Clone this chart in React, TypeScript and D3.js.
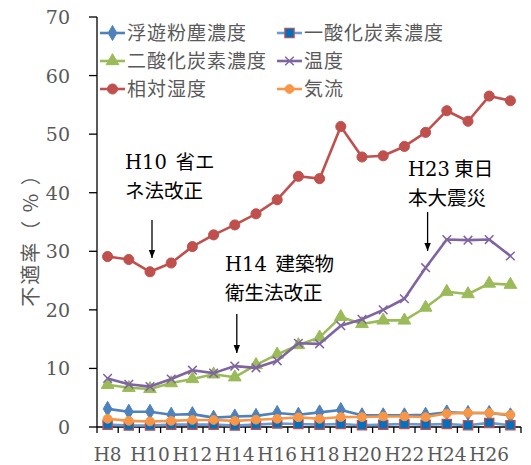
import React from "react";
import * as d3 from "d3";

// Fiscal years (Heisei era)
const years = [
  "H8", "H9", "H10", "H11", "H12", "H13", "H14", "H15", "H16", "H17",
  "H18", "H19", "H20", "H21", "H22", "H23", "H24", "H25", "H26", "H27",
];

// Non-compliance rates (%) per inspection item
const dust = [3.1, 2.6, 2.6, 2.1, 2.2, 1.6, 1.8, 1.9, 2.4, 2.1, 2.5, 2.9, 2.0, 2.0, 2.0, 2.1, 2.5, 2.4, 2.4, 2.0];
const carbonMonoxide = [0.4, 0.25, 0.25, 0.4, 0.4, 0.4, 0.25, 0.4, 0.6, 0.5, 0.4, 0.5, 0.3, 0.4, 0.5, 0.4, 0.5, 0.3, 0.7, 0.3];
const carbonDioxide = [7.2, 6.7, 6.5, 7.5, 8.2, 9.0, 8.5, 10.6, 12.4, 14.0, 15.3, 18.8, 17.6, 18.2, 18.2, 20.4, 23.1, 22.7, 24.5, 24.3];
const temperature = [8.3, 7.3, 6.9, 8.2, 9.7, 9.2, 10.4, 10.1, 11.3, 14.3, 14.2, 17.3, 18.4, 20.0, 21.9, 27.2, 32.0, 31.9, 32.0, 29.2];
const humidity = [29.1, 28.6, 26.5, 28.0, 30.8, 32.8, 34.5, 36.4, 38.8, 42.8, 42.4, 51.3, 46.1, 46.3, 47.9, 50.3, 54.0, 52.2, 56.5, 55.7];
const airflow = [1.4, 1.05, 0.95, 1.05, 1.2, 1.2, 1.05, 1.25, 1.4, 1.65, 1.4, 1.7, 1.7, 1.8, 1.8, 1.7, 2.3, 2.4, 2.4, 2.1];

const yTicks = [0, 10, 20, 30, 40, 50, 60, 70];
const xLabelYears = ["H8", "H10", "H12", "H14", "H16", "H18", "H20", "H22", "H24", "H26"];

type Series = {
  name: string;
  values: number[];
  line: string;
  symbol: d3.SymbolType;
  size: number;
  fill: string;
  stroke: string;
  strokeWidth: number;
};

const series: Series[] = [
  { name: "浮遊粉塵濃度", values: dust, line: "#4F81BD", symbol: d3.symbolDiamond, size: 65, fill: "#4F81BD", stroke: "#4F81BD", strokeWidth: 1 },
  { name: "一酸化炭素濃度", values: carbonMonoxide, line: "#6A9AD6", symbol: d3.symbolSquare, size: 85, fill: "#0070C0", stroke: "#C0504D", strokeWidth: 1.3 },
  { name: "二酸化炭素濃度", values: carbonDioxide, line: "#9BBB59", symbol: d3.symbolTriangle, size: 70, fill: "#9BBB59", stroke: "#9BBB59", strokeWidth: 1 },
  { name: "温度", values: temperature, line: "#8064A2", symbol: d3.symbolTimes, size: 50, fill: "none", stroke: "#8064A2", strokeWidth: 1.5 },
  { name: "相対湿度", values: humidity, line: "#C0504D", symbol: d3.symbolCircle, size: 80, fill: "#C0504D", stroke: "#C0504D", strokeWidth: 1 },
  { name: "気流", values: airflow, line: "#F79646", symbol: d3.symbolCircle, size: 60, fill: "#F79646", stroke: "#F79646", strokeWidth: 1 },
];

// Law changes and events marked on the chart
const events = [
  { year: "H10", lines: [["H10", "  省エ"], ["", "ネ法改正"]], tx: 125, ty: 169, y1: 220, y2: 258 },
  { year: "H14", lines: [["H14", "  建築物"], ["", "衛生法改正"]], tx: 225, ty: 271, y1: 314, y2: 353 },
  { year: "H23", lines: [["H23", " 東日"], ["", "本大震災"]], tx: 408, ty: 176, y1: 212, y2: 251 },
];

const W = 531;
const H = 465;
const left = 97;
const right = 521;
const top = 17;
const bottom = 427;

const serif = "'DejaVu Serif', 'Liberation Serif', serif";
const cjk = "'Noto Sans CJK JP', 'Noto Sans', sans-serif";

export default function App() {
  const x = d3.scaleBand<string>().domain(years).range([left, right]).padding(0);
  const y = d3.scaleLinear().domain([0, 70]).range([bottom, top]);
  const cx = (yr: string) => (x(yr) as number) + x.bandwidth() / 2;

  const lineGen = d3
    .line<number>()
    .x((_, i) => cx(years[i]))
    .y((v) => y(v));

  const legendPos = [
    [100, 33], [277, 33],
    [100, 61], [277, 61],
    [100, 89], [277, 89],
  ];

  return (
    <svg width={W} height={H} style={{ position: "absolute", left: 0, top: 0, background: "#fff" }}>
      <defs>
        <marker id="arrow" viewBox="0 0 10 10" refX="10" refY="5" markerWidth="8" markerHeight="8" orient="auto" markerUnits="userSpaceOnUse">
          <path d="M0,1 L10,5 L0,9 Z" fill="#000" />
        </marker>
      </defs>

      {/* y axis */}
      <line x1={left} x2={left} y1={top} y2={bottom} stroke="#000" strokeWidth={1.3} />
      {yTicks.map((t) => (
        <g key={t}>
          <line x1={left - 8} x2={left} y1={y(t)} y2={y(t)} stroke="#000" strokeWidth={1.3} />
          <text x={70} y={y(t) + 7} textAnchor="end" fontFamily={serif} fontSize={19} fill="#595959">
            {t}
          </text>
        </g>
      ))}
      <text
        transform={`translate(38, 235) rotate(-90)`}
        textAnchor="middle"
        fontFamily={cjk}
        fontSize={20}
        letterSpacing={2}
        fill="#595959"
      >
        不適率（ % ）
      </text>

      {/* x axis */}
      <line x1={left} x2={right} y1={bottom} y2={bottom} stroke="#000" strokeWidth={1.3} />
      {years.map((yr) => (
        <line key={yr} x1={x(yr) as number} x2={x(yr) as number} y1={bottom} y2={bottom + 6} stroke="#000" strokeWidth={1.3} />
      ))}
      <line x1={right} x2={right} y1={bottom} y2={bottom + 6} stroke="#000" strokeWidth={1.3} />
      {xLabelYears.map((yr) => (
        <text key={yr} x={cx(yr)} y={461} textAnchor="middle" fontFamily={serif} fontSize={18.5} fill="#595959">
          {yr}
        </text>
      ))}

      {/* series */}
      {series.map((s) => (
        <g key={s.name}>
          <path d={lineGen(s.values) as string} fill="none" stroke={s.line} strokeWidth={2.6} strokeLinejoin="round" />
          {s.values.map((v, i) => (
            <path
              key={i}
              d={d3.symbol().type(s.symbol).size(s.size)() as string}
              transform={`translate(${cx(years[i])},${y(v)})`}
              fill={s.fill}
              stroke={s.stroke}
              strokeWidth={s.strokeWidth}
            />
          ))}
        </g>
      ))}

      {/* legend */}
      {series.map((s, i) => {
        const [lx, ly] = legendPos[i];
        return (
          <g key={s.name}>
            <line x1={lx} x2={lx + 25} y1={ly} y2={ly} stroke={s.line} strokeWidth={2.6} />
            <path
              d={d3.symbol().type(s.symbol).size(s.size)() as string}
              transform={`translate(${lx + 12.5},${ly})`}
              fill={s.fill}
              stroke={s.stroke}
              strokeWidth={s.strokeWidth}
            />
            <text x={lx + 27} y={ly + 7} fontFamily={cjk} fontSize={19} letterSpacing={1} fill="#595959">
              {s.name}
            </text>
          </g>
        );
      })}

      {/* event annotations */}
      {events.map((e) => (
        <g key={e.year}>
          {e.lines.map(([latin, jp], k) => (
            <text key={k} x={e.tx} y={e.ty + k * 29} fontSize={19.5} fill="#000" style={{ whiteSpace: "pre" }}>
              <tspan fontFamily={serif}>{latin}</tspan>
              <tspan fontFamily={cjk}>{jp}</tspan>
            </text>
          ))}
          <line x1={cx(e.year) + 2} x2={cx(e.year) + 2} y1={e.y1} y2={e.y2} stroke="#000" strokeWidth={1.3} markerEnd="url(#arrow)" />
        </g>
      ))}
    </svg>
  );
}
